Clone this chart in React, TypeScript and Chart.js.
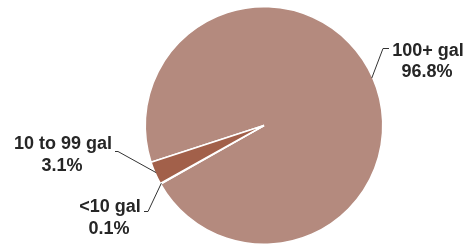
import React, { useEffect, useRef } from "react";
import { Chart, registerables } from "chart.js";

Chart.register(...registerables);

const categories = ["100+ gal", "<10 gal", "10 to 99 gal"];
const values = [96.8, 0.1, 3.1];
const valueLabels = ["96.8%", "0.1%", "3.1%"];
const colors = ["#b48a7e", "#8a4a38", "#a2604a"];

// label layout offsets relative to pie centre: [textX, textY, elbowX, elbowY, endX, endY]
const labelLayout = [
  [164, -74.5, 119, -77, 125, -77],
  [-154, 82, -116, 86, -120, 86],
  [-201, 19, -146, 26, -149, 26],
];

const labelPlugin = {
  id: "pieLabels",
  afterDraw(chart: any) {
    const ctx = chart.ctx;
    const meta = chart.getDatasetMeta(0);
    ctx.save();
    meta.data.forEach((arc: any, i: number) => {
      const { x, y, startAngle, endAngle, outerRadius } = arc.getProps(
        ["x", "y", "startAngle", "endAngle", "outerRadius"],
        true
      );
      const mid = (startAngle + endAngle) / 2;
      const ax = x + Math.cos(mid) * (outerRadius - 1);
      const ay = y + Math.sin(mid) * (outerRadius - 1);
      const L = labelLayout[i];
      ctx.strokeStyle = "#333333";
      ctx.lineWidth = 1;
      ctx.beginPath();
      ctx.moveTo(ax, ay);
      ctx.lineTo(x + L[2], y + L[3]);
      ctx.lineTo(x + L[4], y + L[5]);
      ctx.stroke();
      ctx.fillStyle = "#262626";
      ctx.font = "bold 18px 'Liberation Sans', Arial, sans-serif";
      ctx.textAlign = "center";
      ctx.textBaseline = "middle";
      ctx.fillText(categories[i], x + L[0], y + L[1]);
      ctx.fillText(valueLabels[i], x + L[0] - 1, y + L[1] + 21.5);
    });
    ctx.restore();
  },
};

export default function App() {
  const ref = useRef<HTMLCanvasElement>(null);
  useEffect(() => {
    document.body.style.margin = "0";
    const chart = new Chart(ref.current!, {
      type: "pie",
      data: {
        labels: categories,
        datasets: [
          {
            data: values,
            backgroundColor: colors,
            borderColor: "#ffffff",
            borderWidth: 1.5,
          },
        ],
      },
      options: {
        animation: false,
        responsive: false,
        rotation: 252,
        layout: { padding: { left: 57, right: 0, top: 6, bottom: 2 } },
        plugins: {
          legend: { display: false },
          tooltip: { enabled: false },
        },
      },
      plugins: [labelPlugin],
    });
    return () => chart.destroy();
  }, []);
  return (
    <div style={{ width: 471, height: 247 }}>
      <canvas ref={ref} width={471} height={247} />
    </div>
  );
}
